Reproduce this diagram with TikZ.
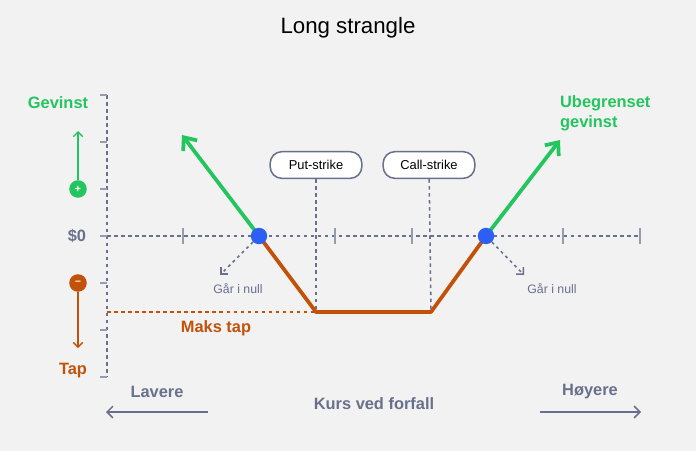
\documentclass[tikz,border=0pt]{standalone}
\usepackage{fontspec}
\setmainfont{Liberation Sans}
\usetikzlibrary{arrows.meta,positioning}
\definecolor{bggray}{RGB}{242,242,242}
\definecolor{gaingreen}{RGB}{34,197,94}
\definecolor{lossorange}{RGB}{194,82,10}
\definecolor{dotblue}{RGB}{45,95,245}
\definecolor{axisgray}{RGB}{105,112,140}

\begin{document}
\begin{tikzpicture}[
        x=0.03cm, y=-0.03cm,
        axis/.style={axisgray, line width=1.3pt, dash pattern=on 3pt off 3pt},
        tick/.style={axisgray!70, line width=1.2pt},
        strike/.style={draw=axisgray, line width=1.3pt, fill=white, rounded corners=10pt, minimum width=2.75cm, minimum height=0.8cm, font=\fontsize{11}{13}\selectfont},
        payoff/.style={line width=3.2pt},
        gainarrow/.style={payoff, gaingreen, -{Straight Barb[length=9pt,width=15pt]}},
        zero/.style={circle, fill=dotblue, inner sep=0pt, minimum size=14pt},
        hint/.style={axisgray, line width=1.3pt, dash pattern=on 2.5pt off 3pt, -{Straight Barb[angle=90:6pt]}},
        lbl/.style={font=\bfseries\fontsize{14}{17}\selectfont}
    ]
        \fill[bggray] (0,0) rectangle (696,451);

        % Title
        \node[font=\fontsize{19}{22}\selectfont] (title) at (348,28) {Long strangle};

        % Axes
        \coordinate (ytop) at (107,95);
        \coordinate (ybot) at (107,377);
        \draw[axis] (ytop) -- (ybot);
        \foreach \y in {95,142,189,236,283,330,377}
            \draw[tick] (100,\y) -- (107,\y);
        \coordinate (xleft) at (107,236);
        \coordinate (xright) at (640,236);
        \draw[axis] (xleft) -- (xright);
        \foreach \x in {183,335,412,563,640}
            \draw[tick] (\x,228) -- (\x,244);

        % Strikes
        \node[strike] (put) at (316,165) {Put-strike};
        \node[strike] (call) at (429,165) {Call-strike};
        \coordinate (putlow) at (316,312);
        \coordinate (calllow) at (431,312);
        \draw[axis] (put) -- (putlow);
        \draw[axis] (call) -- (calllow);

        % Max loss
        \coordinate (maxl) at (107,312);
        \draw[axis, lossorange] (maxl) -- (putlow);
        \node[lbl, lossorange] (makstap) at (216,328) {Maks tap};

        % Payoff
        \coordinate (be1) at (259,236);
        \coordinate (be2) at (486,236);
        \draw[payoff, lossorange, line join=round] (be1) -- (putlow) -- (calllow) -- (be2);
        \coordinate (lefttip) at (182,135);
        \coordinate (righttip) at (560,140);
        \draw[gainarrow] (be1) -- (lefttip);
        \draw[gainarrow] (be2) -- (righttip);
        \node[zero] (dot1) at (be1) {};
        \node[zero] (dot2) at (be2) {};

        % Goes to zero
        \coordinate (h1) at (220,275);
        \coordinate (h2) at (524,275);
        \draw[hint] (dot1) -- (h1);
        \draw[hint] (dot2) -- (h2);
        \node[axisgray, font=\fontsize{10.5}{12}\selectfont] (null1) at (238,289) {Går i null};
        \node[axisgray, font=\fontsize{10.5}{12}\selectfont] (null2) at (552,289) {Går i null};

        % Left legend
        \node[lbl, gaingreen] (gevinst) at (58,103) {Gevinst};
        \node[lbl, axisgray] (zerolbl) at (77,236) {\$0};
        \node[lbl, lossorange] (tap) at (73,371) {Tap};
        \node[circle, fill=gaingreen, text=white, inner sep=0pt, minimum size=15pt, font=\bfseries\small] (plus) at (78,189) {+};
        \node[circle, fill=lossorange, text=white, inner sep=0pt, minimum size=15pt, font=\bfseries\small] (minus) at (78,283) {--};
        \coordinate (uptip) at (78,131);
        \coordinate (downtip) at (78,348);
        \draw[gaingreen, line width=1.2pt, -{Straight Barb[length=4pt,width=8pt]}] (plus) -- (uptip);
        \draw[lossorange, line width=1.2pt, -{Straight Barb[length=4pt,width=8pt]}] (minus) -- (downtip);
        \node[lbl, gaingreen, align=left, anchor=west] (ubeg) at (556,113) {Ubegrenset\\gevinst};

        % Bottom
        \node[lbl, axisgray] (lavere) at (157,392) {Lavere};
        \node[lbl, axisgray] (hoyere) at (590,392) {Høyere};
        \node[lbl, axisgray] (kurs) at (374,404) {Kurs ved forfall};
        \coordinate (la) at (208,412);
        \coordinate (lb) at (106,412);
        \coordinate (ra) at (540,412);
        \coordinate (rb) at (641,412);
        \draw[axisgray, line width=1.3pt, -{Straight Barb[length=5pt,width=10pt]}] (la) -- (lb);
        \draw[axisgray, line width=1.3pt, -{Straight Barb[length=5pt,width=10pt]}] (ra) -- (rb);
    \end{tikzpicture}
\end{document}
